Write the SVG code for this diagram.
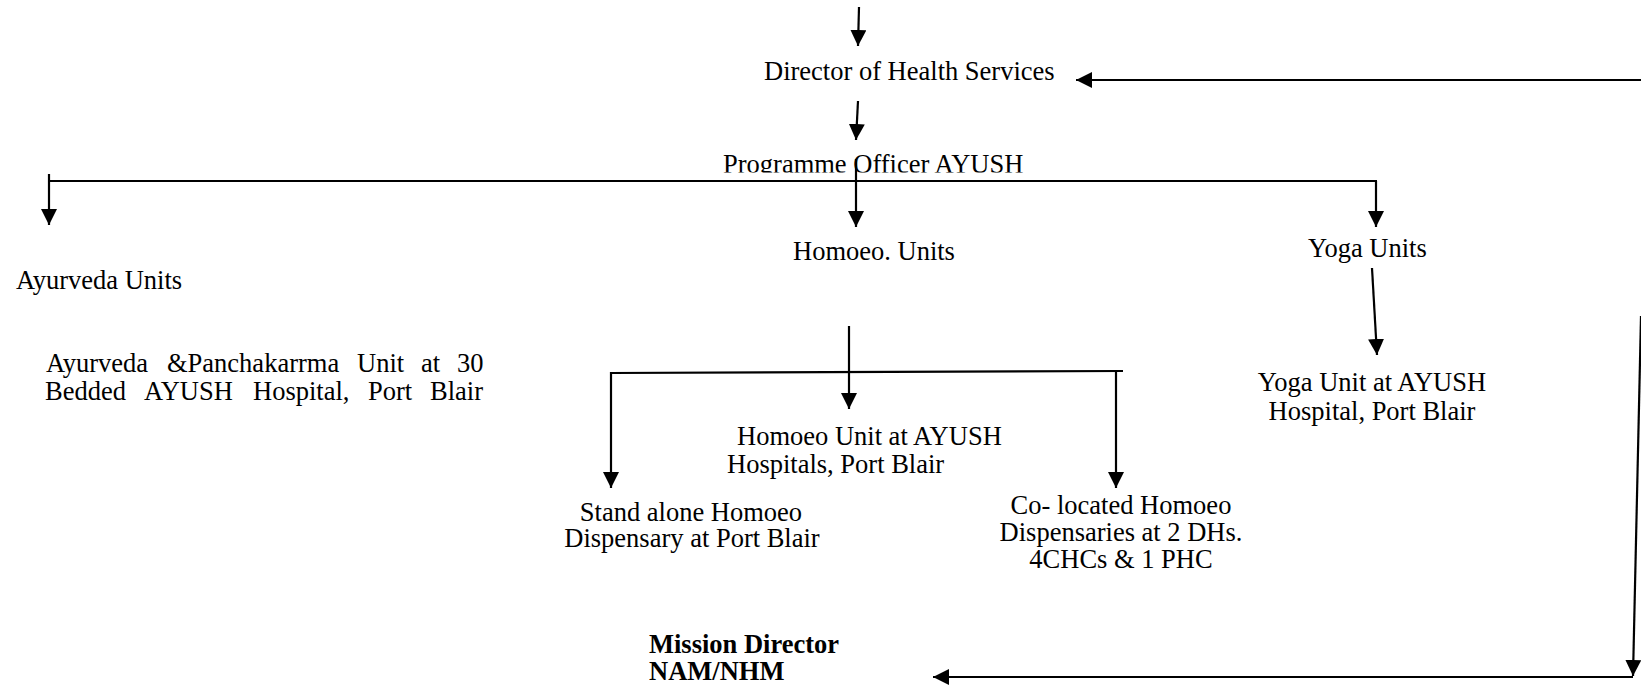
<svg xmlns="http://www.w3.org/2000/svg" width="1641" height="692" viewBox="0 0 1641 692">
<style>
text{font-family:"Liberation Serif","Times New Roman",serif;font-size:26.5px;fill:#000}
.b{font-weight:bold}
.c{text-anchor:middle}
.ln{stroke:#000;stroke-width:2.2;fill:none}
.ar{stroke:#000;stroke-width:2.2;fill:none;marker-end:url(#ah)}
</style>
<defs>
<marker id="ah" markerUnits="userSpaceOnUse" markerWidth="17" markerHeight="16" refX="16" refY="8" orient="auto" viewBox="0 0 17 16">
<path d="M0,0 L16,8 L0,16 z" fill="#000"/>
</marker>
<clipPath id="clipPO"><rect x="700" y="140" width="360" height="32.5"/></clipPath>
</defs>
<rect width="1641" height="692" fill="#fff"/>
<g id="connectors">
<path class="ar" d="M859,7 L858,46"/>
<path class="ar" d="M1641,80 L1076,80"/>
<path class="ar" d="M858,101 L856,140"/>
<path class="ln" d="M49,181 L1377,181"/>
<path class="ar" d="M49,174 L49,225"/>
<path class="ar" d="M856,159 L856,227"/>
<path class="ar" d="M1376,181 L1376,227"/>
<path class="ar" d="M1372,268 L1377,355"/>
<path class="ar" d="M849,326 L849,409"/>
<path class="ln" d="M610,373 L1123,371"/>
<path class="ar" d="M611,372 L611,488"/>
<path class="ar" d="M1116,371 L1116,488"/>
<path class="ar" d="M1641,316 L1633,676"/>
<path class="ar" d="M1633,677 L933,677"/>
</g>
<g id="director">
<text x="764" y="80">Director of Health Services</text>
</g>
<g id="programme-officer">
<text x="723" y="172.5" clip-path="url(#clipPO)">Programme Officer AYUSH</text>
</g>
<g id="ayurveda-units">
<text x="16" y="289">Ayurveda Units</text>
</g>
<g id="homoeo-units">
<text x="793" y="260">Homoeo. Units</text>
</g>
<g id="yoga-units">
<text x="1308" y="257">Yoga Units</text>
</g>
<g id="ayurveda-hospital">
<text y="372"><tspan x="46">Ayurveda</tspan><tspan x="167">&amp;Panchakarrma</tspan><tspan x="357">Unit</tspan><tspan x="421">at</tspan><tspan x="457">30</tspan></text>
<text y="400"><tspan x="45">Bedded</tspan><tspan x="144">AYUSH</tspan><tspan x="253">Hospital,</tspan><tspan x="368">Port</tspan><tspan x="430">Blair</tspan></text>
</g>
<g id="yoga-hospital">
<text class="c" x="1372" y="391">Yoga Unit at AYUSH</text>
<text class="c" x="1372" y="420">Hospital, Port Blair</text>
</g>
<g id="homoeo-hospital">
<text x="737" y="445">Homoeo Unit at AYUSH</text>
<text x="727" y="473">Hospitals, Port Blair</text>
</g>
<g id="standalone-dispensary">
<text class="c" x="691" y="521">Stand alone Homoeo</text>
<text class="c" x="692" y="547">Dispensary at Port Blair</text>
</g>
<g id="colocated-dispensaries">
<text class="c" x="1121" y="514">Co- located Homoeo</text>
<text class="c" x="1121" y="541">Dispensaries at 2 DHs.</text>
<text class="c" x="1121" y="568">4CHCs &amp; 1 PHC</text>
</g>
<g id="mission-director">
<text class="b" x="649" y="653">Mission Director</text>
<text class="b" x="649" y="680">NAM/NHM</text>
</g>
</svg>
